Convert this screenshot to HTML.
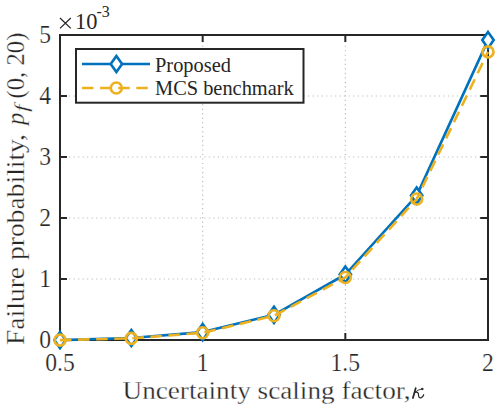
<!DOCTYPE html>
<html><head><meta charset="utf-8">
<style>
html,body{margin:0;padding:0;background:#fff;}
body{width:500px;height:409px;overflow:hidden;}
svg{display:block;}
text{font-family:"Liberation Serif",serif;fill:#262626;}
.lab text,text.lab{stroke:#fff;stroke-width:0.3px;}
.tk text{stroke:#fff;stroke-width:0.2px;}
</style></head>
<body>
<svg width="500" height="409" viewBox="0 0 500 409">
<defs>
<path id="dm" d="M0 -8.1L5.7 0L0 8.1L-5.7 0Z" fill="#fff" stroke="#0072BD" stroke-width="2.6" stroke-miterlimit="10"/>
<circle id="cm" r="5.5" fill="none" stroke="#EDB120" stroke-width="2.6"/>
</defs>
<rect x="0" y="0" width="500" height="409" fill="#fff"/>

<g stroke="#bcbcbc" stroke-width="1.2" stroke-dasharray="1.2 3.31" fill="none">
<line x1="202.67" y1="340" x2="202.67" y2="35"/>
<line x1="345.33" y1="340" x2="345.33" y2="35"/>
<line x1="60" y1="279" x2="488" y2="279"/>
<line x1="60" y1="218" x2="488" y2="218"/>
<line x1="60" y1="157" x2="488" y2="157"/>
<line x1="60" y1="96" x2="488" y2="96"/>
</g>
<g stroke="#262626" stroke-width="2" fill="none"><rect x="60" y="35" width="428" height="305"/>
<path d="M60 279h7M488 279h-7.8M60 218h7M488 218h-7.8M60 157h7M488 157h-7.8M60 96h7M488 96h-7.8M202.67 340v-7M202.67 35v7M345.33 340v-7M345.33 35v7"/></g>
<g class="tk" font-size="23.6" text-anchor="end">
<text x="51" y="348" transform="translate(0,348) scale(1,1.03) translate(0,-348)">0</text>
<text x="51" y="287" transform="translate(0,287) scale(1,1.03) translate(0,-287)">1</text>
<text x="51" y="226" transform="translate(0,226) scale(1,1.03) translate(0,-226)">2</text>
<text x="51" y="165" transform="translate(0,165) scale(1,1.03) translate(0,-165)">3</text>
<text x="51" y="104" transform="translate(0,104) scale(1,1.03) translate(0,-104)">4</text>
<text x="51" y="43" transform="translate(0,43) scale(1,1.03) translate(0,-43)">5</text>
</g>
<g class="tk" font-size="23.6" text-anchor="middle">
<text x="60" y="371" transform="translate(0,371) scale(1,1.03) translate(0,-371)">0.5</text>
<text x="202.67" y="371" transform="translate(0,371) scale(1,1.03) translate(0,-371)">1</text>
<text x="345.33" y="371" transform="translate(0,371) scale(1,1.03) translate(0,-371)">1.5</text>
<text x="488" y="371" transform="translate(0,371) scale(1,1.03) translate(0,-371)">2</text>
</g>
<path d="M60 18L70.8 28.4M70.8 18L60 28.4" stroke="#262626" stroke-width="1.25" fill="none"/>
<text x="75" y="28.6" font-size="23.6" textLength="22.4" lengthAdjust="spacingAndGlyphs">10</text>
<text x="96.5" y="17" font-size="16">-3</text>
<text class="lab" x="122.5" y="398.5" font-size="24.75" textLength="288" lengthAdjust="spacingAndGlyphs">Uncertainty scaling factor,</text>
<g fill="none" stroke="#262626" stroke-linecap="round"><path d="M415.7 388.2L412.9 398" stroke-width="1.75"/><path d="M414.6 392.6Q418 389.6 421.8 388.9" stroke-width="0.9"/><circle cx="422.2" cy="389" r="0.9" fill="#262626" stroke-width="0.6"/><path d="M415.2 392.2Q418.4 391.6 418.5 394.8Q418.6 398.4 420.9 397.9Q422.9 397.3 423.7 394.7" stroke-width="1.2"/></g>
<g class="lab" transform="translate(24,345) rotate(-90)">
<text x="0" y="0" font-size="24.75" textLength="211" lengthAdjust="spacingAndGlyphs">Failure probability,</text>
<text x="220" y="0" font-size="24.75" font-style="italic">p</text>
<text x="233" y="4" font-size="18" textLength="7.5" lengthAdjust="spacingAndGlyphs" font-style="italic">f</text>
<text x="246.5" y="0" font-size="24.75">(0, 20)</text>
</g>
<polyline fill="none" stroke="#0072BD" stroke-width="2.6" stroke-linejoin="round" points="60,340.1 131.33,338 202.67,332.1 274,314.85 345.33,274.5 416.67,195.6 488,40.1"/>
<use href="#dm" x="60" y="340.1"/>
<use href="#dm" x="131.33" y="338"/>
<use href="#dm" x="202.67" y="332.1"/>
<use href="#dm" x="274" y="314.85"/>
<use href="#dm" x="345.33" y="274.5"/>
<use href="#dm" x="416.67" y="195.6"/>
<use href="#dm" x="488" y="40.1"/>
<polyline fill="none" stroke="#EDB120" stroke-width="2.6" stroke-dasharray="11.5 6.6" points="60,340.1 131.33,338.4 202.67,332.8 274,315.8 345.33,277.5 416.67,199 488,51.9"/>
<use href="#cm" x="60" y="340.1"/>
<use href="#cm" x="131.33" y="338.4"/>
<use href="#cm" x="202.67" y="332.8"/>
<use href="#cm" x="274" y="315.8"/>
<use href="#cm" x="345.33" y="277.5"/>
<use href="#cm" x="416.67" y="199"/>
<use href="#cm" x="488" y="51.9"/>
<rect x="76" y="49" width="227.5" height="53.7" fill="#fff" stroke="#262626" stroke-width="2"/>
<line x1="82" y1="64" x2="150" y2="64" stroke="#0072BD" stroke-width="2.6"/>
<line x1="82" y1="88" x2="148" y2="88" stroke="#EDB120" stroke-width="2.6" stroke-dasharray="11.5 6.6"/>
<use href="#dm" x="116.4" y="64"/><use href="#cm" x="116.3" y="88"/>
<g font-size="20.4"><text x="155" y="72">Proposed</text><text x="155" y="95">MCS benchmark</text></g>
</svg>
</body></html>
